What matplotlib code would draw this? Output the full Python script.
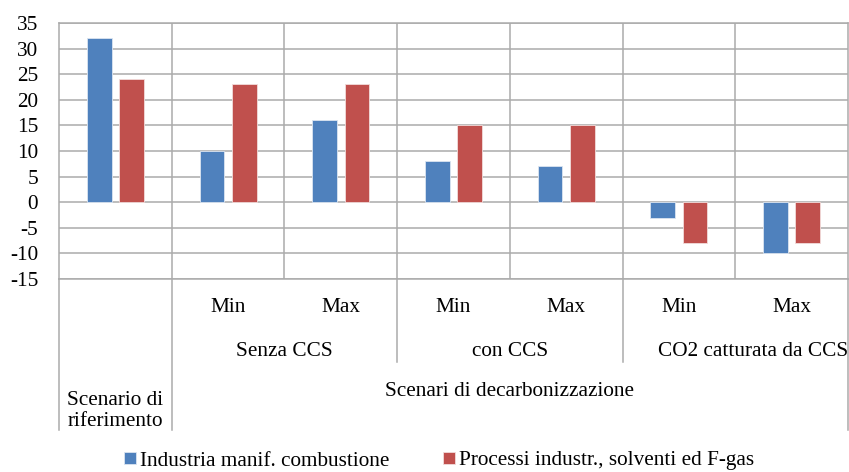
import numpy as np
import matplotlib.pyplot as plt
import matplotlib.transforms as mtransforms

plt.rcParams['font.family'] = ['Liberation Serif', 'DejaVu Serif']
plt.rcParams['font.size'] = 15.3
plt.rcParams['axes.unicode_minus'] = False

# dati
sottocategorie = ['', 'Min', 'Max', 'Min', 'Max', 'Min', 'Max']
gruppi = ['Senza CCS', 'con CCS', 'CO2 catturata da CCS']
combustione = [32, 10, 16, 8, 7, -3, -10]
processi = [24, 23, 23, 15, 15, -8, -8]
serie_nomi = ['Industria manif. combustione', 'Processi industr., solventi ed F-gas']
colori = ['#4F81BD', '#C0504D']

fig = plt.figure(figsize=(8.49, 4.72), dpi=100)
ax = fig.add_axes([59 / 849, (472 - 279) / 472, 789 / 849, 256 / 472])

x = np.arange(len(combustione))
w = 0.22
ax.bar(x - 0.143, combustione, w, color=colori[0], edgecolor='#dbe5f1',
       linewidth=0.6, label=serie_nomi[0], zorder=3)
ax.bar(x + 0.143, processi, w, color=colori[1], edgecolor='#f2dcdb',
       linewidth=0.6, label=serie_nomi[1], zorder=3)

ax.set_xlim(-0.5, len(x) - 0.5)
ax.set_ylim(-15, 35)
ax.set_yticks(np.arange(-15, 36, 5))
ax.tick_params(axis='y', length=0, pad=15)
ax.set_xticks([])

grid_col = '#ababab'
ax.yaxis.grid(True, color=grid_col, linewidth=1.1, zorder=0)
for xv in np.arange(0.5, len(x) - 0.5, 1):
    ax.axvline(xv, color=grid_col, linewidth=1.1, zorder=0)
for s in ax.spines.values():
    s.set_color(grid_col)
    s.set_linewidth(1.1)

# tabella delle categorie sotto l'asse
tr = mtransforms.blended_transform_factory(ax.transData, ax.transAxes)
def yfrac(px):
    return (279 - px) / 256

for xv in [-0.5, 0.5, 6.5]:
    ax.plot([xv, xv], [0, yfrac(430)], transform=tr, color=grid_col,
            linewidth=1.1, clip_on=False)
for xv in [2.5, 4.5]:
    ax.plot([xv, xv], [0, yfrac(362)], transform=tr, color=grid_col,
            linewidth=1.1, clip_on=False)

for i, lab in enumerate(sottocategorie):
    if lab:
        ax.text(i, yfrac(308), lab, transform=tr, ha='center', va='center')
for k, g in enumerate(gruppi):
    xc = 1.5 + 2 * k
    if k == 2:
        xc += 0.16
    ax.text(xc, yfrac(351), g, transform=tr, ha='center', va='center')
ax.text(3.5, yfrac(391), 'Scenari di decarbonizzazione', transform=tr,
        ha='center', va='center')
ax.text(0, yfrac(411), 'Scenario di\nriferimento', transform=tr,
        ha='center', va='center', linespacing=1.2)

fig.legend(loc='center', bbox_to_anchor=(439 / 849, 11 / 472), ncol=2,
           frameon=False, handlelength=0.56, handleheight=0.56,
           handletextpad=0.19, columnspacing=2.5, borderaxespad=0)

fig.savefig('out.png', dpi=100)
